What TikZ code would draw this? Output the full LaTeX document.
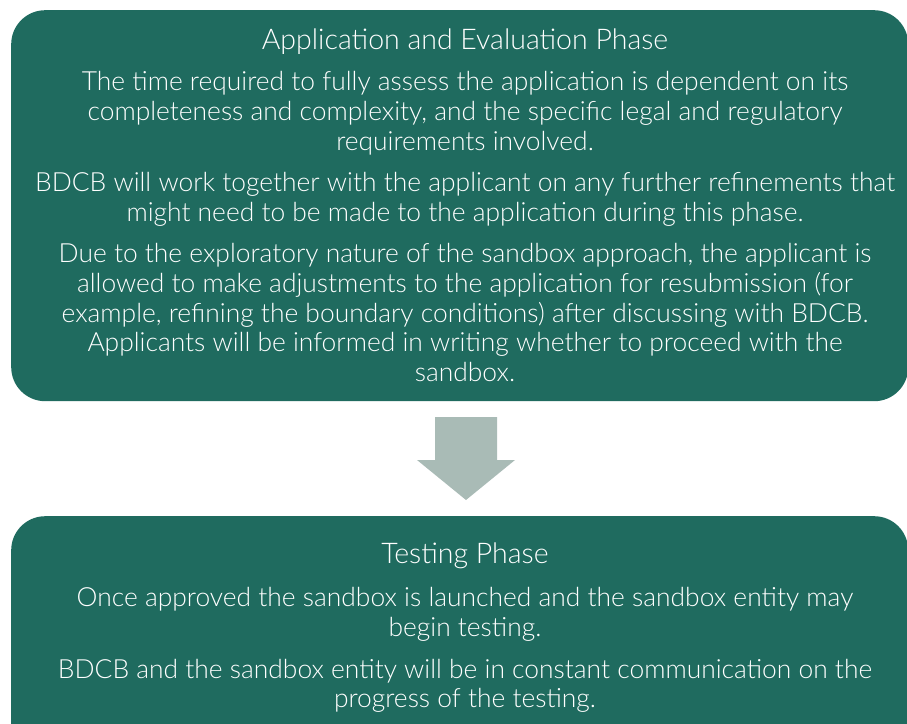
\documentclass[tikz,border=0pt]{standalone}
\usepackage{fontspec}
\setmainfont{Lato Light}
\definecolor{phasegreen}{RGB}{31,107,95}
\definecolor{arrowgrey}{RGB}{169,187,182}

\begin{document}
\begin{tikzpicture}[
            x = 1pt, y = 1pt,
            phase/.style={fill=phasegreen, rounded corners=34pt, anchor=north west, inner sep=0pt},
            title/.style={text=white, inner sep=0pt, font=\fontsize{28.5}{32}\selectfont},
            body/.style={text=white, inner sep=0pt, align=center, anchor=north, font=\fontsize{26.4}{29.6}\selectfont},
            ]
    \useasboundingbox (0,0) rectangle (907,-723);
    \clip (0,0) rectangle (907,-723);

    \node[phase, minimum width=897pt, minimum height=391pt] (evalbox) at (11,-10) {};
    \node[phase, minimum width=897pt, minimum height=260pt] (testbox) at (11,-516) {};

    \fill[arrowgrey] (435,-417) -- (497,-417) -- (497,-460) -- (515,-460) -- (466,-500) -- (417,-460) -- (435,-460) -- cycle;

    \node[title] (evaltitle) at (465,-42) {Application and Evaluation Phase};
    \node[body] (evaltext) at (465,-71.5) {The time required to fully assess the application is dependent on its\\
        completeness and complexity, and the specific legal and regulatory\\
        requirements involved.\\[12pt]
        BDCB will work together with the applicant on any further refinements that\\
        might need to be made to the application during this phase.\\[12pt]
        Due to the exploratory nature of the sandbox approach, the applicant is\\
        allowed to make adjustments to the application for resubmission (for\\
        example, refining the boundary conditions) after discussing with BDCB.\\
        Applicants will be informed in writing whether to proceed with the\\
        sandbox.};

    \node[title] (testtitle) at (465,-556) {Testing Phase};
    \node[body] (testtext) at (465,-587.5) {Once approved the sandbox is launched and the sandbox entity may\\
        begin testing.\\[12pt]
        BDCB and the sandbox entity will be in constant communication on the\\
        progress of the testing.};
\end{tikzpicture}
\end{document}
